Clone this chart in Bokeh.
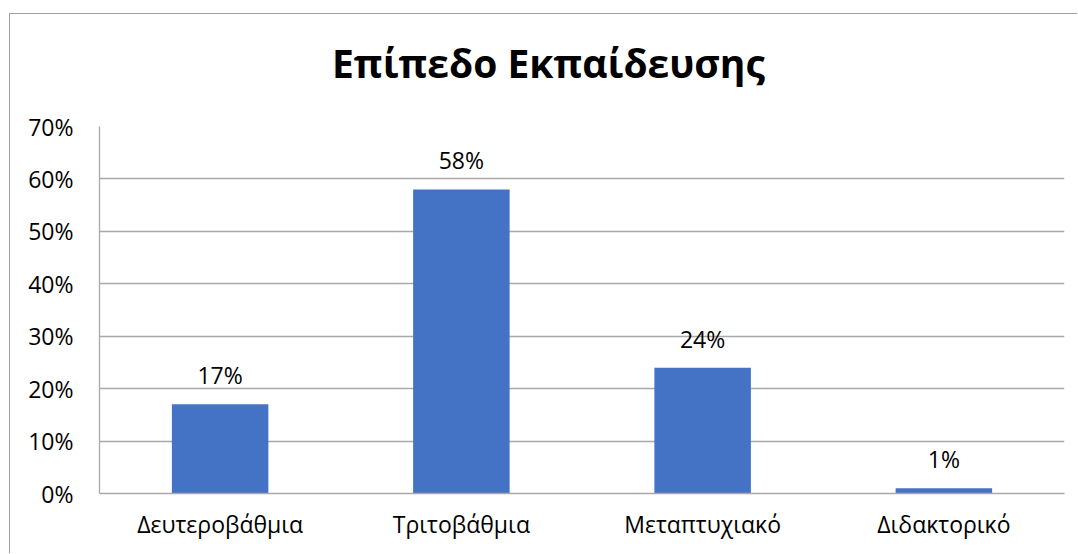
from bokeh.plotting import figure
from bokeh.layouts import column
from bokeh.models import ColumnDataSource, LabelSet, Div, FixedTicker, NumeralTickFormatter, FactorRange, Range1d
from bokeh.core.properties import value
from bokeh.embed import file_html
from bokeh.resources import INLINE

title_text = "Επίπεδο Εκπαίδευσης"
categories = ["Δευτεροβάθμια", "Τριτοβάθμια", "Μεταπτυχιακό", "Διδακτορικό"]
shares = [0.17, 0.58, 0.24, 0.01]
y_ticks = [0.0, 0.1, 0.2, 0.3, 0.4, 0.5, 0.6, 0.7]

FONT = "Open Sans"
GRID = "#a9a9a9"
BAR = "#4472C4"

src = ColumnDataSource(dict(cat=categories, val=shares,
                            lab=[f"{round(v*100)}%" for v in shares]))

title_div = Div(
    text=(f'<div style="font-family:\'{FONT}\';font-size:39px;font-weight:bold;'
          f'line-height:1;padding-top:29px;padding-left:322px;color:#000000;'
          f'white-space:nowrap;">{title_text}</div>'),
    width=1067, height=90, margin=0)

p = figure(x_range=FactorRange(*categories, range_padding=0), y_range=Range1d(0, 0.7),
           width=1067, height=449, output_backend="svg", toolbar_location=None,
           min_border_left=89, min_border_right=13, min_border_top=22, min_border_bottom=60,
           margin=0)
p.title = None

p.vbar(x="cat", top="val", width=0.4, source=src, fill_color=BAR, line_color=None)

labels = LabelSet(x="cat", y="val", text="lab", source=src, text_align="center",
                  text_baseline="bottom", y_offset=13, text_font=value(FONT),
                  text_font_size="23px", text_color="#000000")
p.add_layout(labels)

p.outline_line_color = None
p.background_fill_color = "white"
p.border_fill_color = "white"

p.xgrid.grid_line_color = None
p.ygrid.grid_line_color = GRID
p.ygrid.grid_line_width = 1.3
p.yaxis.ticker = FixedTicker(ticks=y_ticks)
p.yaxis.formatter = NumeralTickFormatter(format="0%")
p.yaxis.axis_line_color = GRID
p.yaxis.axis_line_width = 1.3
p.yaxis.major_tick_line_color = None
p.yaxis.minor_tick_line_color = None
p.yaxis.major_tick_out = 0
p.yaxis.major_label_standoff = 26
p.xaxis.axis_line_color = GRID
p.xaxis.axis_line_width = 1.3
p.xaxis.major_tick_line_color = None
p.xaxis.major_tick_out = 0
p.xaxis.major_label_standoff = 14
for ax in (p.xaxis, p.yaxis):
    ax.major_label_text_font = FONT
    ax.major_label_text_font_size = "23px"
    ax.major_label_text_color = "#000000"

layout = column(title_div, p, spacing=0, margin=(13, 0, 0, 9),
                styles={"border-left": "1px solid #a0a0a0", "border-top": "1px solid #a0a0a0",
                        "background": "white"})

open("out.html", "w").write(file_html(layout, INLINE))
